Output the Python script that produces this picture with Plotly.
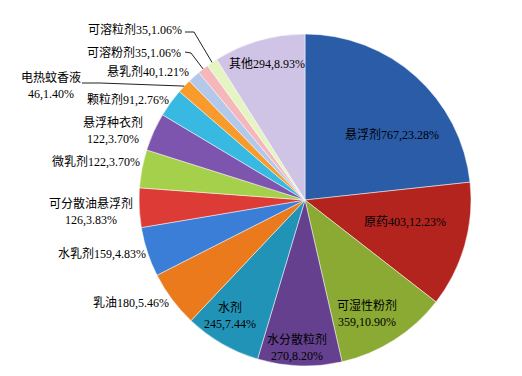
import math
import plotly.graph_objects as go

# ---- data ----
categories = ["悬浮剂", "原药", "可湿性粉剂", "水分散粒剂", "水剂", "乳油", "水乳剂",
              "可分散油悬浮剂", "微乳剂", "悬浮种衣剂", "颗粒剂", "电热蚊香液",
              "悬乳剂", "可溶粉剂", "可溶粒剂", "其他"]
counts = [767, 403, 359, 270, 245, 180, 159, 126, 122, 122, 91, 46, 40, 35, 35, 294]
percent_labels = ["23.28%", "12.23%", "10.90%", "8.20%", "7.44%", "5.46%", "4.83%",
                  "3.83%", "3.70%", "3.70%", "2.76%", "1.40%", "1.21%", "1.06%",
                  "1.06%", "8.93%"]

# ---- styling / layout ----
W, H = 522, 376
CX, CY, R = 305, 200, 166  # pie centre & radius in px
colors = ["#2A5CA8", "#B3241F", "#8BAA34", "#64408E", "#2193B7", "#EB7A1C", "#3A7ED8",
          "#DC3B36", "#A5D04C", "#7D55AE", "#37B9E2", "#F89B2D", "#B3C9EC", "#F5B7BA",
          "#E4F5C3", "#D0C4E6"]
# label placement (px): (x, y, xanchor, two_line)
label_pos = [
    (392, 134, "center", False),
    (405, 222, "center", False),
    (367, 313, "center", True),
    (297, 347, "center", True),
    (230, 315, "center", True),
    (131, 303, "center", False),
    (102, 253, "center", False),
    (91, 211, "center", True),
    (96, 161, "center", False),
    (113, 131, "center", True),
    (128, 99, "center", False),
    (51, 85, "center", True),
    (148, 71, "center", False),
    (183, 52, "right", False),
    (184, 30, "right", False),
    (267, 64, "center", False),
]
# leader lines: index -> (start px, elbow px); end computed on the pie edge
leaders = {11: ((82, 83), (100, 83)), 13: ((185, 52), (191, 53)), 14: ((185, 32), (194, 32))}

FONT = "Liberation Serif, Times New Roman, Noto Sans CJK SC, serif"

def px2paper(x, y):
    return x / W, 1 - y / H

fig = go.Figure(go.Pie(
    labels=categories,
    values=counts,
    sort=False,
    direction="clockwise",
    rotation=0,
    textinfo="none",
    hoverinfo="label+value+percent",
    marker=dict(colors=colors, line=dict(color="rgba(255,255,255,0.7)", width=0.7)),
    domain=dict(x=[(CX - R) / W, (CX + R) / W], y=[(H - CY - R) / H, (H - CY + R) / H]),
    showlegend=False,
))

annotations = []
for i, (name, c, p) in enumerate(zip(categories, counts, percent_labels)):
    x, y, anchor, two = label_pos[i]
    txt = f"{name}<br>{c},{p}" if two else f"{name}{c},{p}"
    xp, yp = px2paper(x, y)
    annotations.append(dict(x=xp, y=yp, xref="paper", yref="paper", text=txt,
                            showarrow=False, xanchor=anchor, yanchor="middle",
                            font=dict(family=FONT, size=12, color="#000000"),
                            align="center"))

total = sum(counts)
cum = 0
mids = []
for c in counts:
    mids.append((cum + c / 2) / total * 2 * math.pi)
    cum += c

shapes = []
for i, (start, elbow) in leaders.items():
    a = mids[i]
    ex, ey = CX + R * math.sin(a), CY - R * math.cos(a)
    pts = [px2paper(*start), px2paper(*elbow), px2paper(ex, ey)]
    path = "M {} {} L {} {} L {} {}".format(pts[0][0], pts[0][1], pts[1][0], pts[1][1], pts[2][0], pts[2][1])
    shapes.append(dict(type="path", path=path, xref="paper", yref="paper",
                       line=dict(color="#222222", width=1)))

fig.update_layout(
    width=W, height=H,
    margin=dict(l=0, r=0, t=0, b=0),
    paper_bgcolor="white", plot_bgcolor="white",
    annotations=annotations, shapes=shapes,
)
fig.write_html("out.html")
